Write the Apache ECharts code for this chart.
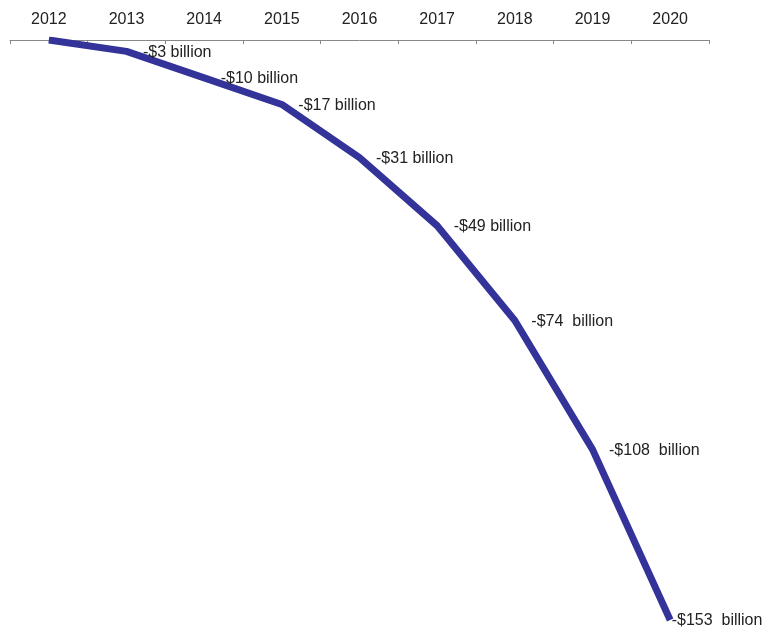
<!DOCTYPE html>
<html>
<head>
<meta charset="utf-8">
<script src="https://cdn.jsdelivr.net/npm/echarts@6/dist/echarts.min.js"></script>
<style>
html,body{margin:0;padding:0;background:#fff;}
#c{width:765px;height:631px;}
</style>
</head>
<body>
<div id="c"></div>
<script>
var years = ['2012','2013','2014','2015','2016','2017','2018','2019','2020'];
var values = [0, -3, -10, -17, -31, -49, -74, -108, -153];
var labels = ['', '-$3 billion', '-$10 billion', '-$17 billion', '-$31 billion', '-$49 billion', '-$74  billion', '-$108  billion', '-$153  billion'];

var chart = echarts.init(document.getElementById('c'));
var data = values.map(function (v, i) {
  var d = { value: v, label: { formatter: labels[i] } };
  if (i === values.length - 1) { d.label.distance = 1; }
  return d;
});
chart.setOption({
  animation: false,
  grid: { left: 10, right: 56, top: 40, bottom: 11 },
  xAxis: {
    type: 'category',
    position: 'top',
    data: years,
    boundaryGap: true,
    axisLine: { lineStyle: { color: '#888', width: 1 } },
    axisTick: { show: true, inside: true, length: 4, alignWithLabel: false, lineStyle: { color: '#888' } },
    axisLabel: { color: '#222', fontFamily: 'Liberation Sans', fontSize: 16, margin: 12 }
  },
  yAxis: {
    type: 'value',
    min: -153,
    max: 0,
    show: false,
    splitLine: { show: false }
  },
  series: [{
    type: 'line',
    data: data,
    symbol: 'circle',
    symbolSize: 1,
    showSymbol: true,
    lineStyle: { color: '#333399', width: 7, cap: 'butt', join: 'round' },
    itemStyle: { color: 'rgba(0,0,0,0)', borderWidth: 0 },
    label: {
      show: true,
      position: 'right',
      distance: 16,
      offset: [0, 1],
      color: '#222',
      fontFamily: 'Liberation Sans',
      fontSize: 16
    }
  }]
});
</script>
</body>
</html>
